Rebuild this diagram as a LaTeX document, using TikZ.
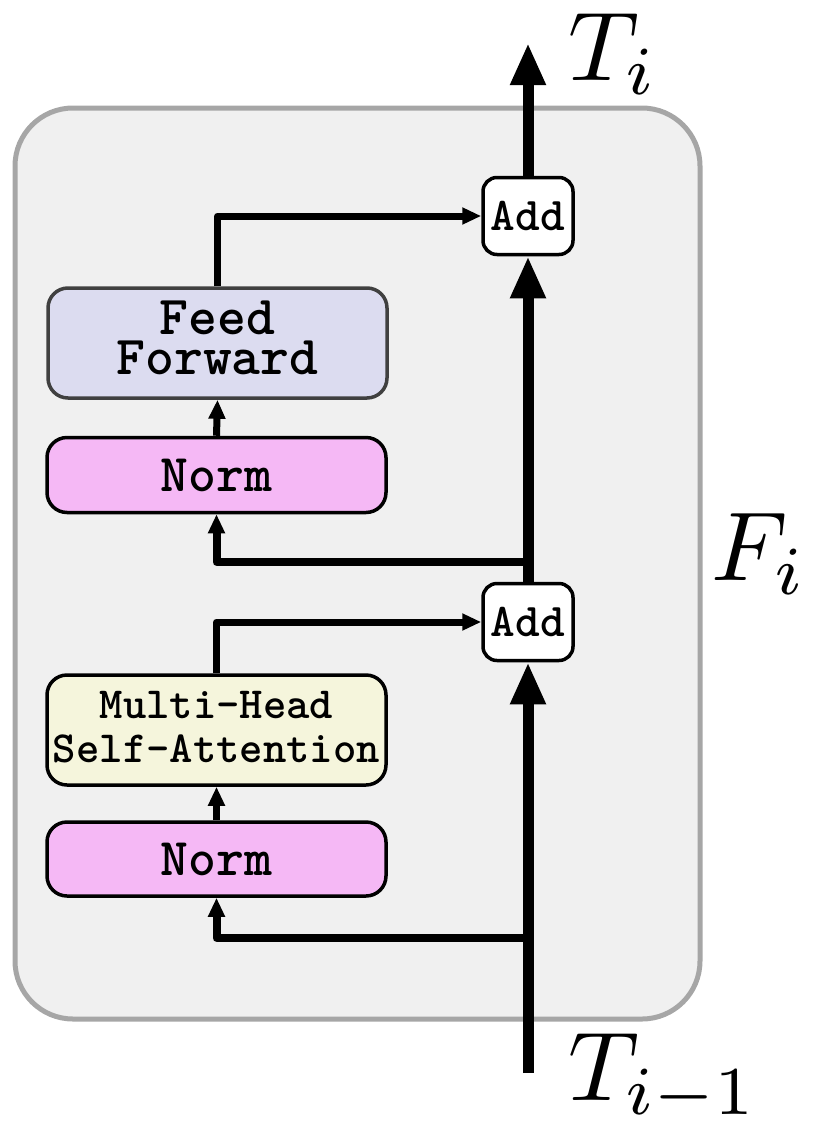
\documentclass[tikz,border=0pt]{standalone}
\usetikzlibrary{arrows.meta}
\definecolor{framefill}{HTML}{F0F0F0}
\definecolor{framedraw}{HTML}{A6A6A6}
\definecolor{fffill}{HTML}{DCDCF0}
\definecolor{ffdraw}{HTML}{404040}
\definecolor{normfill}{HTML}{F5B8F5}
\definecolor{attnfill}{HTML}{F5F5DC}
\newcommand\stacktwo[2]{\vbox{\lineskiplimit=-100pt\halign{\hfil##\hfil\cr#1\cr#2\cr}}}
\newcommand\sctt[2]{\scalebox{#1}{\ttfamily\bfseries #2}}
\begin{document}
\begin{tikzpicture}[x=1pt,y=-1pt,
  frame/.style={draw=framedraw,fill=framefill,line width=5pt,rounded corners=58pt,minimum width=685pt,minimum height=911pt,inner sep=0pt},
  blk/.style={draw=black,line width=3.5pt,rounded corners=20pt,minimum width=339pt,inner sep=0pt,align=center},
  addbox/.style={draw=black,fill=white,line width=3.5pt,rounded corners=14pt,minimum width=90pt,minimum height=77pt,inner sep=0pt},
  mainline/.style={line width=11pt,-{Triangle[length=42pt,width=33pt]}},
  branchline/.style={line width=8pt,line join=round,-{Triangle[length=19pt,width=16pt]}},
  subline/.style={line width=7pt,line join=round,-{Triangle[length=19pt,width=16pt]}},
  lbl/.style={inner sep=0pt,anchor=base west}
]
\useasboundingbox (0,0) rectangle (812,1128);
\node[frame] (frm) at (357.5,563.5) {};

\node[blk,fill=fffill,draw=ffdraw,minimum height=110pt] (ff) at (217.5,343)
  {\scalebox{5.5}{\ttfamily\bfseries\fontsize{10}{7.3}\selectfont\stacktwo{Feed}{Forward}\vrule height 0pt depth 2pt width 0pt}};
\node[blk,fill=normfill,minimum height=75pt] (norm1) at (216.5,475) {\sctt{5.3}{Norm}};
\node[blk,fill=attnfill,minimum height=110pt] (mhsa) at (216.5,730)
  {\scalebox{4.45}{\ttfamily\bfseries\fontsize{10}{10.1}\selectfont\stacktwo{Multi-Head}{Self-Attention}\vrule height 0pt depth 1.4pt width 0pt}};
\node[blk,fill=normfill,minimum height=74pt] (norm2) at (216.5,859) {\sctt{5.3}{Norm}};

\node[addbox] (addtop) at (528,216) {\sctt{4.7}{Add}};
\node[addbox] (addbot) at (528,622) {\sctt{4.7}{Add}};

\coordinate (tin) at (528,1073);
\coordinate (tout) at (528,43);
\coordinate (br1) at (528,938);
\coordinate (br2) at (528,562);

% branches
\draw[branchline] (br1) -| (norm2.south);
\draw[branchline] (br2) -| (norm1.south);
\draw[subline] (norm2.north) -- (mhsa.south);
\draw[subline] (norm1.north) -- (ff.south);
\draw[subline] (mhsa.north) |- (addbot.west);
\draw[subline] (ff.north) |- (addtop.west);

% main path
\draw[mainline] (tin) -- (addbot.south);
\draw[mainline] (addbot.north) -- (addtop.south);
\draw[mainline] (addtop.north) -- (tout);

\node[lbl] (ti) at (568,80) {\scalebox{9.8}{$T_i$}};
\node[lbl] (tim) at (568,1100) {\scalebox{9.8}{$T_{i-1}$}};
\node[lbl] (fi) at (711,580) {\scalebox{9.8}{$F_i$}};
\end{tikzpicture}
\end{document}
